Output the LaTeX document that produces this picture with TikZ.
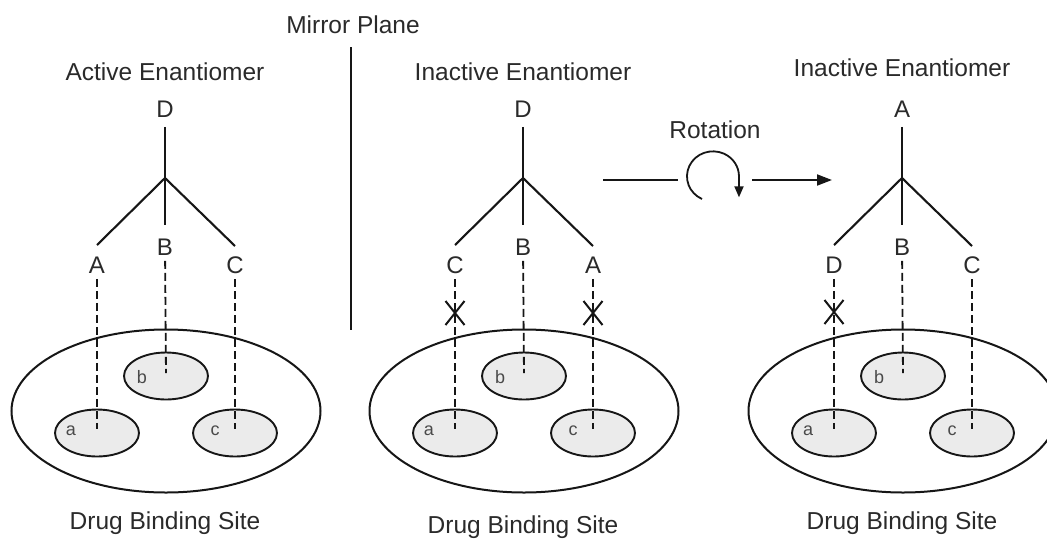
\documentclass[tikz,border=0pt]{standalone}
\usepackage{fontspec}
\setmainfont{Liberation Sans}
\usetikzlibrary{shapes.geometric,shapes.misc,arrows.meta}
\definecolor{ink}{HTML}{161616}
\definecolor{txt}{HTML}{2A2A2A}
\definecolor{subtxt}{HTML}{4A4A4A}
\definecolor{sitefill}{HTML}{EBEBEB}
\begin{document}
\begin{tikzpicture}[x=1pt,y=1pt,
  lbl/.style={text=txt,font=\fontsize{24}{28}\selectfont,inner sep=5.5pt},
  ttl/.style={text=txt,font=\fontsize{24.5}{28}\selectfont,inner sep=0pt},
  sub/.style={text=subtxt,font=\fontsize{18}{20}\selectfont,inner sep=0pt},
  bond/.style={draw=ink,line width=2.1pt},
  link/.style={draw=ink,line width=1.8pt,dash pattern=on 8pt off 4pt},
  site/.style={ellipse,draw=ink,line width=1.9pt,fill=sitefill,inner sep=0pt,
    minimum width=84pt,minimum height=47pt},
  pocket/.style={ellipse,draw=ink,line width=2pt,inner sep=0pt,
    minimum width=309pt,minimum height=163pt},
  nomatch/.style={cross out,draw=ink,line width=2pt,inner sep=0pt,
    minimum width=17pt,minimum height=22pt}]
\useasboundingbox (0,0) rectangle (1047,-539);
\clip (0,0) rectangle (1047,-539);

% three enantiomer / binding-site panels
\foreach \p/\cx/\nm/\t/\l/\r/\ty/\by in {
    1/165/{Active Enantiomer}/D/A/C/72/523,
    2/523/{Inactive Enantiomer}/D/C/A/72/527,
    3/902/{Inactive Enantiomer}/A/D/C/68/523}{
  \node[ttl] (title\p) at (\cx,-\ty) {\nm};
  % binding site with its three pockets
  \node[pocket] (pocket\p) at (\cx+1,-411) {};
  \node[site] (sa\p) at (\cx-68,-433) {};
  \node[site] (sb\p) at (\cx+1,-376) {};
  \node[site] (sc\p) at (\cx+70,-433) {};
  \node[sub] (na\p) at (\cx-94,-431) {a};
  \node[sub] (nb\p) at (\cx-23,-377) {b};
  \node[sub] (nc\p) at (\cx+50,-431) {c};
  % tetrahedral centre
  \node[lbl] (top\p) at (\cx,-109) {\t};
  \coordinate (j\p) at (\cx,-178);
  \coordinate (armL\p) at (\cx-68,-245);
  \coordinate (armM\p) at (\cx,-225);
  \coordinate (armR\p) at (\cx+70,-246);
  \node[lbl] (L\p) at (\cx-68,-265) {\l};
  \node[lbl] (M\p) at (\cx,-247) {B};
  \node[lbl] (R\p) at (\cx+70,-265) {\r};
  \draw[bond,shorten <=4pt] (top\p) -- (armM\p);
  \draw[bond,line join=miter] (armL\p) -- (j\p) -- (armR\p);
  % interactions with the pockets
  \draw[link,shorten >=4pt] (L\p) -- (sa\p.center);
  \draw[link,shorten >=3pt] (M\p) -- (sb\p.center);
  \draw[link,shorten >=4pt] (R\p) -- (sc\p.center);
  \node[ttl] (site\p) at (\cx,-\by) {Drug Binding Site};
}

% failed interactions
\node[nomatch] (x2l) at (455,-313) {};
\node[nomatch] (x2r) at (593,-313) {};
\node[nomatch] (x3l) at (834,-312) {};

% mirror plane
\node[ttl] (mirror) at (353,-25) {Mirror Plane};
\coordinate (mtop) at (351,-47);
\coordinate (mbot) at (351,-330);
\draw[bond,line width=1.8pt] (mtop) -- (mbot);

% rotation
\node[ttl] (rot) at (715,-130) {Rotation};
\coordinate (r0) at (603,-180);
\coordinate (r1) at (678,-180);
\coordinate (arcS) at (702,-199);
\coordinate (r2) at (752,-180);
\coordinate (r3) at (832,-180);
\draw[bond,line width=1.9pt] (r0) -- (r1);
\draw[bond,line width=1.8pt,-{Triangle[length=11pt,width=9pt]}]
  (arcS) arc[start angle=245,end angle=0,x radius=26pt,y radius=25pt] -- ++(0,-21);
\draw[bond,line width=1.9pt,-{Triangle[length=15pt,width=11pt]}] (r2) -- (r3);
\end{tikzpicture}
\end{document}
